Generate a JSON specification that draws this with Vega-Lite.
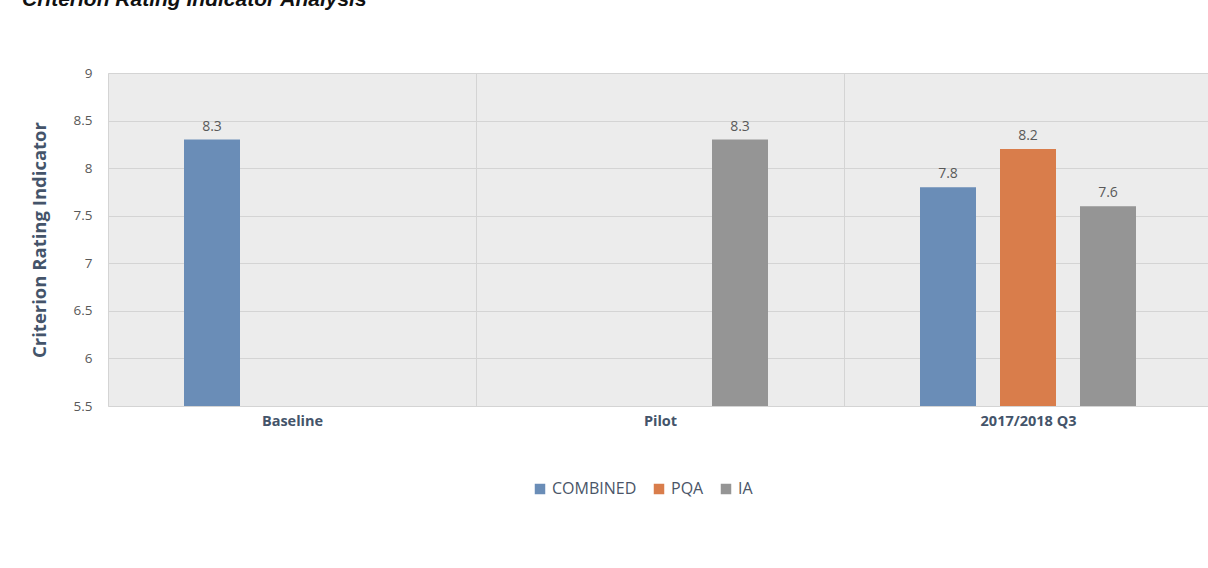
{
  "$schema": "https://vega.github.io/schema/vega-lite/v6.json",
  "width": 1104,
  "height": 333,
  "autosize": {"type": "none"},
  "padding": {"left": 108, "top": 73, "right": -4, "bottom": 162},
  "background": "white",
  "title": {
    "text": "Criterion Rating Indicator Analysis",
    "anchor": "start",
    "frame": "group",
    "font": "Liberation Sans",
    "fontSize": 21,
    "fontWeight": "bold",
    "fontStyle": "italic",
    "color": "#111111",
    "baseline": "alphabetic",
    "offset": 39,
    "dx": -86
  },
  "data": {
    "values": [
      {"period": "Baseline", "series": "COMBINED", "value": 8.3},
      {"period": "Pilot", "series": "IA", "value": 8.3},
      {"period": "2017/2018 Q3", "series": "COMBINED", "value": 7.8},
      {"period": "2017/2018 Q3", "series": "PQA", "value": 8.2},
      {"period": "2017/2018 Q3", "series": "IA", "value": 7.6}
    ]
  },
  "encoding": {
    "x": {
      "field": "period",
      "type": "nominal",
      "sort": ["Baseline", "Pilot", "2017/2018 Q3"],
      "scale": {"domain": ["Baseline", "Pilot", "2017/2018 Q3"], "paddingInner": 0, "paddingOuter": 0},
      "axis": {
        "title": null,
        "labelAngle": 0,
        "labelFont": "Open Sans",
        "labelFontSize": 14.5,
        "labelFontWeight": "bold",
        "labelColor": "#44546a",
        "labelPadding": 8,
        "ticks": false,
        "tickBand": "extent",
        "grid": true,
        "gridColor": "#d4d4d4",
        "gridWidth": 1,
        "domainColor": "#d4d4d4"
      }
    },
    "xOffset": {
      "field": "series",
      "type": "nominal",
      "scale": {"domain": ["COMBINED", "PQA", "IA"], "paddingInner": 0.3, "paddingOuter": 0.95}
    },
    "y": {
      "field": "value",
      "type": "quantitative",
      "scale": {"domain": [5.5, 9], "nice": false, "zero": false},
      "axis": {
        "title": "Criterion Rating Indicator",
        "titleFont": "Open Sans",
        "titleFontSize": 18.5,
        "titleFontWeight": "bold",
        "titleColor": "#44546a",
        "titlePadding": 24,
        "values": [5.5, 6, 6.5, 7, 7.5, 8, 8.5, 9],
        "format": "~g",
        "labelFont": "Open Sans",
        "labelFontSize": 13.5,
        "labelColor": "#595959",
        "labelPadding": 16,
        "ticks": false,
        "domain": false,
        "grid": true,
        "gridColor": "#d4d4d4",
        "gridWidth": 1
      }
    }
  },
  "layer": [
    {
      "mark": {"type": "bar"},
      "encoding": {
        "y2": {"datum": 5.5},
        "color": {
          "field": "series",
          "type": "nominal",
          "scale": {"domain": ["COMBINED", "PQA", "IA"], "range": ["#6a8db7", "#d97d4b", "#959595"]},
          "legend": {
            "title": null,
            "orient": "none",
            "direction": "horizontal",
            "legendX": 424,
            "legendY": 408,
            "symbolType": "square",
            "symbolSize": 110,
            "symbolStrokeWidth": 0,
            "labelFont": "Open Sans",
            "labelFontSize": 16,
            "labelColor": "#4a5568",
            "labelOffset": 4,
            "columnPadding": 14
          }
        }
      }
    },
    {
      "mark": {"type": "text", "baseline": "bottom", "dy": -6, "font": "Open Sans", "fontSize": 14, "color": "#595959"},
      "encoding": {
        "text": {"field": "value", "type": "quantitative", "format": ".1f"}
      }
    }
  ],
  "config": {
    "view": {"fill": "#ececec", "stroke": null}
  }
}
